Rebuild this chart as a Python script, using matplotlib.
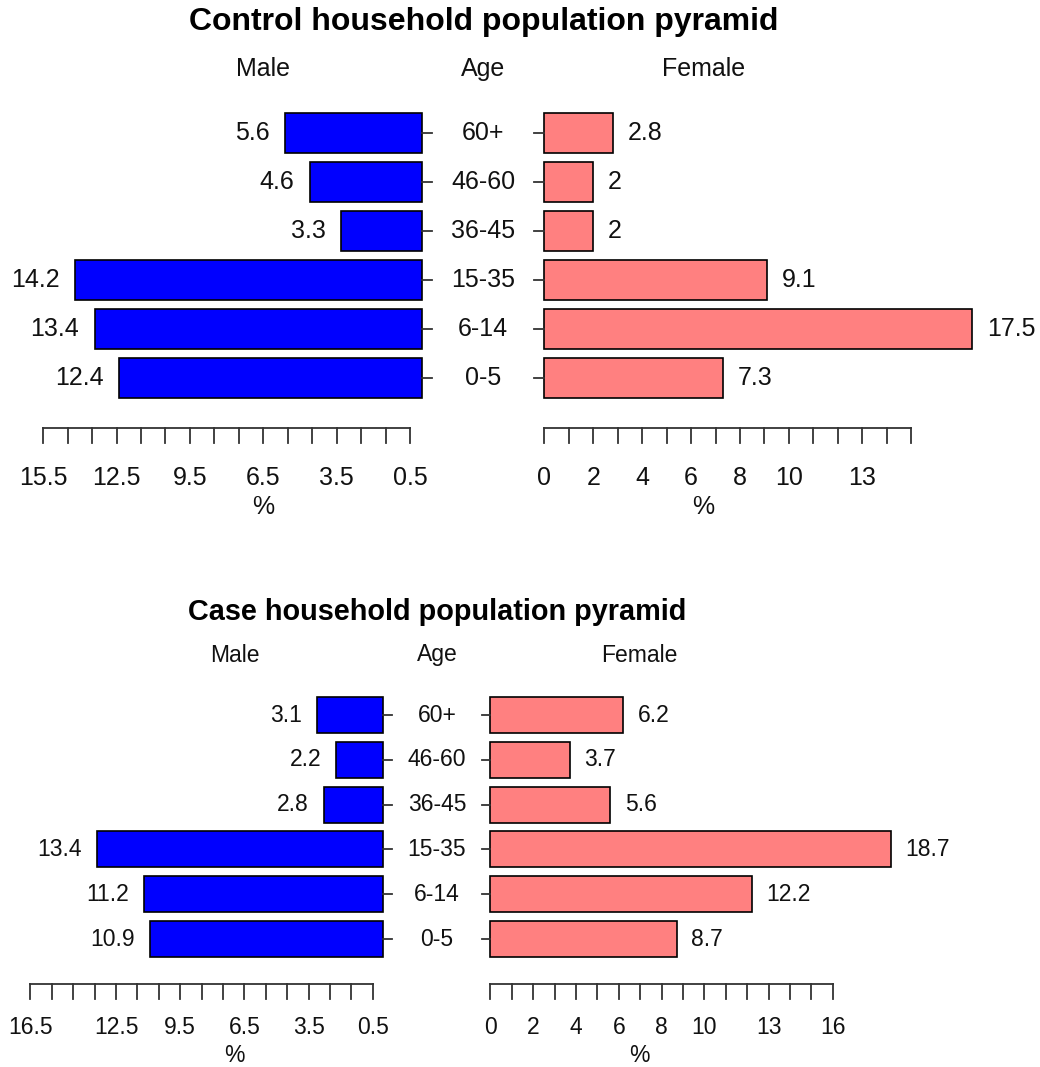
import matplotlib
matplotlib.use("Agg")
import matplotlib.pyplot as plt
from matplotlib.transforms import blended_transform_factory

plt.rcParams['font.family'] = ['Liberation Sans', 'DejaVu Sans']

age_groups = ["0-5", "6-14", "15-35", "36-45", "46-60", "60+"]

control_male = [12.4, 13.4, 14.2, 3.3, 4.6, 5.6]
control_female = [7.3, 17.5, 9.1, 2.0, 2.0, 2.8]
case_male = [10.9, 11.2, 13.4, 2.8, 2.2, 3.1]
case_female = [8.7, 12.2, 18.7, 5.6, 3.7, 6.2]

control_left_ticks = [0.5 + k for k in range(16)]
control_left_labels = [15.5, 12.5, 9.5, 6.5, 3.5, 0.5]
control_right_ticks = list(range(16))
control_right_labels = [0, 2, 4, 6, 8, 10, 13]

case_left_ticks = [0.5 + k for k in range(17)]
case_left_labels = [16.5, 12.5, 9.5, 6.5, 3.5, 0.5]
case_right_ticks = list(range(17))
case_right_labels = [0, 2, 4, 6, 8, 10, 13, 16]

W, H = 1040, 1067
DPI = 100
fig = plt.figure(figsize=(W / DPI, H / DPI), dpi=DPI)

BLUE = "#0000FF"
PINK = "#FF8080"
TXT = "#111111"
GAP = 2.5


def pyramid(title, male, female, lticks, llabels, rticks, rlabels,
            cx, scale, y0, step, band, axis_y, label_y, pct_y,
            head_y, title_y, head_x, fs, title_fs):
    top_px, bot_px = band
    ax = fig.add_axes([0, 1 - bot_px / H, 1, (bot_px - top_px) / H])
    ax.set_xlim(-cx / scale, (W - cx) / scale)
    ax.set_ylim((y0 - bot_px) / step, (y0 - top_px) / step)
    ax.axis("off")
    tr = blended_transform_factory(ax.transData, fig.transFigure)

    def fy(px):
        return 1 - px / H

    idx = list(range(len(age_groups)))
    ax.barh(idx, [-m for m in male], left=-GAP, height=0.8, color=BLUE,
            edgecolor="black", linewidth=1.2)
    ax.barh(idx, female, left=GAP, height=0.8, color=PINK,
            edgecolor="black", linewidth=1.2)

    for i, (m, f, g) in enumerate(zip(male, female, age_groups)):
        ax.annotate(f"{m:g}", xy=(-GAP - m, i), xytext=(-11, 0),
                    textcoords="offset points", ha="right", va="center",
                    fontsize=fs, color=TXT)
        ax.annotate(f"{f:g}", xy=(GAP + f, i), xytext=(10.5, 0),
                    textcoords="offset points", ha="left", va="center",
                    fontsize=fs, color=TXT)
        ax.text(0, i, g, ha="center", va="center", fontsize=fs, color=TXT)
        ax.plot([-GAP, -GAP + 0.42], [i, i], color="#333333", lw=1.3,
                clip_on=False)
        ax.plot([GAP - 0.42, GAP], [i, i], color="#333333", lw=1.3,
                clip_on=False)

    tick_len = 15
    # male axis
    lx = [-GAP - t for t in lticks]
    ax.plot([min(lx), max(lx)], [fy(axis_y)] * 2, transform=tr,
            color="#333333", lw=1.3, clip_on=False)
    for x in lx:
        ax.plot([x, x], [fy(axis_y), fy(axis_y + tick_len)], transform=tr,
                color="#333333", lw=1.3, clip_on=False)
    for v in llabels:
        ax.text(-GAP - v, fy(label_y), f"{v:g}", transform=tr, ha="center",
                va="center", fontsize=fs, color=TXT)
    # female axis
    rx = [GAP + t for t in rticks]
    ax.plot([min(rx), max(rx)], [fy(axis_y)] * 2, transform=tr,
            color="#333333", lw=1.3, clip_on=False)
    for x in rx:
        ax.plot([x, x], [fy(axis_y), fy(axis_y + tick_len)], transform=tr,
                color="#333333", lw=1.3, clip_on=False)
    for v in rlabels:
        ax.text(GAP + v, fy(label_y), f"{v:g}", transform=tr, ha="center",
                va="center", fontsize=fs, color=TXT)

    for x, s in [(-head_x, "Male"), (0, "Age"), (head_x, "Female")]:
        ax.text(x, fy(head_y), s, transform=tr, ha="center", va="center",
                fontsize=fs, color=TXT)
    for x in (-head_x, head_x):
        ax.text(x, fy(pct_y), "%", transform=tr, ha="center", va="center",
                fontsize=fs, color=TXT)
    ax.text(0, fy(title_y), title, transform=tr, ha="center", va="center",
            fontsize=title_fs, fontweight="bold", color="black")


pyramid("Control household population pyramid", control_male, control_female,
        control_left_ticks, control_left_labels,
        control_right_ticks, control_right_labels,
        cx=483.3, scale=24.45, y0=378, step=49, band=(0, 540),
        axis_y=428, label_y=478, pct_y=507, head_y=69, title_y=22, head_x=9.0,
        fs=18, title_fs=23)

pyramid("Case household population pyramid", case_male, case_female,
        case_left_ticks, case_left_labels,
        case_right_ticks, case_right_labels,
        cx=437.0, scale=21.4, y0=939, step=44.8, band=(560, 1067),
        axis_y=984, label_y=1027, pct_y=1056, head_y=655, title_y=612,
        head_x=9.45, fs=16.5, title_fs=20.8)

fig.savefig("out.png", dpi=DPI)
